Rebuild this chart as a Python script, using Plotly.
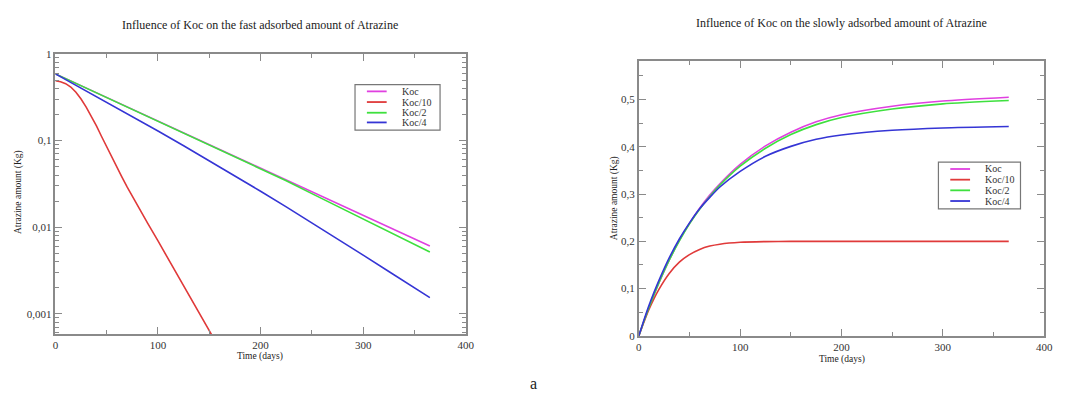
import plotly.graph_objects as go

# ---------------- data ----------------
series_names = ["Koc", "Koc/10", "Koc/2", "Koc/4"]
series_colors = ["#e040e0", "#e03a3a", "#3ee03e", "#3535d5"]

# fast adsorbed amount (left, log scale)
fast_days = [0, 25, 50, 75, 100, 125, 150, 175, 200, 225, 250, 275, 300, 325, 350, 365]
fast_koc = [0.590, 0.431, 0.315, 0.230, 0.168, 0.123, 0.0898, 0.0656, 0.0480, 0.0351,
            0.0256, 0.0187, 0.01368, 0.0100, 0.00730, 0.00605]
fast_koc2 = [0.590, 0.431, 0.315, 0.230, 0.168, 0.123, 0.0898, 0.0656, 0.0478, 0.0344,
             0.0244, 0.0174, 0.01242, 0.00885, 0.00632, 0.00516]
fast_koc4 = [0.590, 0.4055, 0.278, 0.1897, 0.1288, 0.0871, 0.0586, 0.0392, 0.0260, 0.01714,
             0.01122, 0.00731, 0.00474, 0.00307, 0.00199, 0.00153]
fast_red_days = [0, 5, 10, 15, 20, 25, 30, 35, 40, 45, 50, 55, 60, 65, 70, 75, 80, 85, 90,
                 100, 110, 120, 130, 140, 150, 160]
fast_koc10 = [0.49, 0.478, 0.4546, 0.4155, 0.3612, 0.3017, 0.2433, 0.1914, 0.1476, 0.1115,
              0.0843, 0.0640, 0.0486, 0.0375, 0.0289, 0.0226, 0.0177, 0.0140, 0.01107,
              0.00692, 0.00432, 0.0027, 0.00169, 0.00104, 0.00064, 0.000395]

# slowly adsorbed amount (right, linear scale)
slow_days = [0, 5, 10, 15, 20, 30, 40, 50, 60, 70, 80, 100, 125, 150, 175, 200, 250, 300, 365]
slow_koc = [0, 0.031, 0.060, 0.087, 0.113, 0.160, 0.202, 0.238, 0.270, 0.298, 0.322, 0.363,
            0.402, 0.431, 0.453, 0.468, 0.486, 0.497, 0.505]
slow_koc10 = [0, 0.029, 0.056, 0.079, 0.099, 0.132, 0.156, 0.172, 0.183, 0.190, 0.194, 0.198,
              0.1995, 0.2, 0.2, 0.2, 0.2, 0.2, 0.2]
slow_koc2 = [0, 0.031, 0.060, 0.087, 0.113, 0.160, 0.201, 0.237, 0.268, 0.295, 0.319, 0.359,
             0.397, 0.426, 0.447, 0.462, 0.480, 0.491, 0.498]
slow_koc4 = [0, 0.033, 0.064, 0.092, 0.118, 0.165, 0.205, 0.239, 0.269, 0.293, 0.315, 0.348,
             0.380, 0.401, 0.416, 0.425, 0.435, 0.440, 0.443]

log_tickvals = [1, 0.1, 0.01, 0.001]
log_ticktext = ["1", "0,1", "0,01", "0,001"]
log_minor_vals = [m * d for d in [0.1, 0.01, 0.001, 0.0001] for m in range(2, 10)]
lin_tickvals = [0, 0.1, 0.2, 0.3, 0.4, 0.5]
lin_ticktext = ["0", "0,1", "0,2", "0,3", "0,4", "0,5"]
x_tickvals = [0, 100, 200, 300, 400]

left_title = "Influence of Koc on the fast adsorbed amount of Atrazine"
right_title = "Influence of Koc on the slowly adsorbed amount of Atrazine"
x_title = "Time (days)"
y_title = "Atrazine amount (Kg)"
caption = "a"

# ---------------- figure ----------------
FONT = "Liberation Serif"
AX = "#8a8a8a"
W, H = 1073, 403
fig = go.Figure()

fast_x = [fast_days, fast_red_days, fast_days, fast_days]
fast_y = [fast_koc, fast_koc10, fast_koc2, fast_koc4]
for name, col, xs, ys in zip(series_names, series_colors, fast_x, fast_y):
    fig.add_trace(go.Scatter(x=xs, y=ys, name=name, mode="lines",
                             line=dict(color=col, width=1.6, shape="linear"),
                             xaxis="x", yaxis="y", showlegend=False))

slow_y = [slow_koc, slow_koc10, slow_koc2, slow_koc4]
for name, col, ys in zip(series_names, series_colors, slow_y):
    fig.add_trace(go.Scatter(x=slow_days, y=ys, name=name, mode="lines",
                             line=dict(color=col, width=1.6, shape="spline", smoothing=0.6),
                             xaxis="x2", yaxis="y2", showlegend=False))

common = dict(showline=True, linecolor=AX, linewidth=1.5, mirror="ticks", ticks="inside",
              tickcolor=AX, tickwidth=1.2, showgrid=False, zeroline=False,
              tickfont=dict(family=FONT, size=11, color="#333"))

fig.update_layout(
    width=W, height=H,
    margin=dict(l=0, r=0, t=0, b=0),
    paper_bgcolor="white", plot_bgcolor="white",
    font=dict(family=FONT, color="#333"),
    showlegend=False,
    xaxis=dict(domain=[53 / W, 468 / W], range=[0, 400], anchor="y",
               tickvals=x_tickvals, ticklen=7,
               minor=dict(ticks="inside", ticklen=4, dtick=50, tickcolor=AX),
               **common),
    yaxis=dict(domain=[(H - 338) / H, (H - 49.5) / H], type="log",
               range=[-3.234, 0], anchor="x",
               tickvals=log_tickvals, ticktext=log_ticktext, ticklen=7,
               minor=dict(ticks="inside", ticklen=4, tickvals=log_minor_vals, tickcolor=AX),
               **common),
    xaxis2=dict(domain=[643 / W, 1053 / W], range=[0, 400], anchor="y2",
                tickvals=x_tickvals, ticklen=7,
                minor=dict(ticks="inside", ticklen=4, dtick=50, tickcolor=AX),
                **common),
    yaxis2=dict(domain=[(H - 340) / H, (H - 57) / H], range=[0, 0.581],
                anchor="x2", tickvals=lin_tickvals, ticktext=lin_ticktext, ticklen=7,
                minor=dict(ticks="inside", ticklen=4, dtick=0.05, tickcolor=AX),
                **common),
)

ann = [
    dict(text=left_title, x=260, y=20, size=12, angle=0),
    dict(text=right_title, x=848, y=18, size=12, angle=0),
    dict(text=x_title, x=260, y=361, size=9.5, angle=0),
    dict(text=x_title, x=848, y=364, size=9.5, angle=0),
    dict(text=y_title, x=15, y=192, size=9.5, angle=-90),
    dict(text=y_title, x=618, y=198, size=9.5, angle=-90),
    dict(text=caption, x=537, y=389, size=16, angle=0),
]
for a in ann:
    fig.add_annotation(text=a["text"], x=a["x"] / W, y=1 - a["y"] / H, xref="paper",
                       yref="paper", showarrow=False, textangle=a["angle"],
                       xanchor="center", yanchor="middle",
                       font=dict(family=FONT, size=a["size"], color="#222"))

# hand-drawn legends (compact, like the original)
legend_boxes = [
    dict(x0=356, x1=442, y0=81, y1=128, lx0=368, lx1=388, tx=401, rows=[88, 99, 110, 120]),
    dict(x0=946, x1=1029, y0=161, y1=209, lx0=958, lx1=978, tx=991, rows=[168, 179, 190, 201]),
]
for lb in legend_boxes:
    fig.add_shape(type="rect", xref="paper", yref="paper",
                  x0=lb["x0"] / W, x1=lb["x1"] / W, y0=1 - lb["y0"] / H, y1=1 - lb["y1"] / H,
                  line=dict(color="#777", width=1.2), fillcolor="white", layer="above")
    for name, col, ry in zip(series_names, series_colors, lb["rows"]):
        fig.add_shape(type="line", xref="paper", yref="paper",
                      x0=lb["lx0"] / W, x1=lb["lx1"] / W, y0=1 - ry / H, y1=1 - ry / H,
                      line=dict(color=col, width=1.8), layer="above")
        fig.add_annotation(text=name, x=lb["tx"] / W, y=1 - ry / H, xref="paper",
                           yref="paper", showarrow=False, xanchor="left", yanchor="middle",
                           font=dict(family=FONT, size=10, color="#333"))

fig.write_html("out.html", config={"displayModeBar": False},
               post_script="document.body.style.margin='0';")
